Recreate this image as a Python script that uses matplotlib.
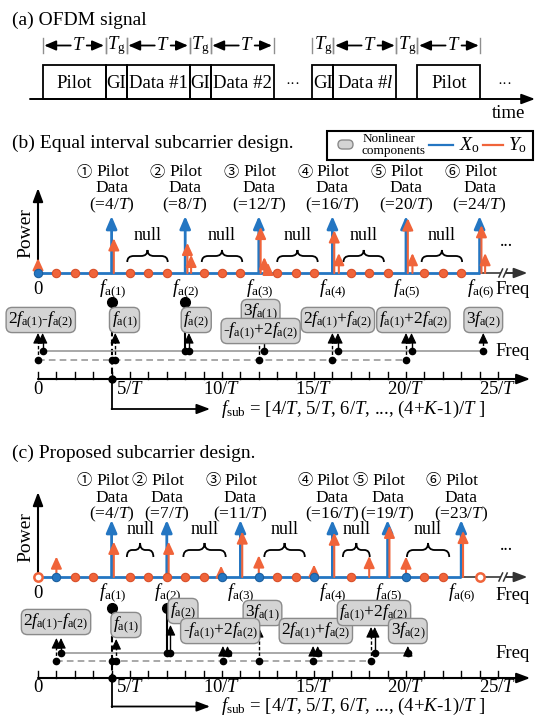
import matplotlib
matplotlib.use('Agg')
import matplotlib.pyplot as plt
import matplotlib.transforms as mtrans
from matplotlib.path import Path
from matplotlib.patches import PathPatch, Rectangle, FancyBboxPatch

W, H, DPI = 543, 717, 100
plt.rcParams['font.family'] = ['Liberation Serif', 'DejaVu Sans']
plt.rcParams['mathtext.fontset'] = 'custom'
plt.rcParams['mathtext.rm'] = 'Liberation Serif'
plt.rcParams['mathtext.it'] = 'Liberation Serif:italic'
plt.rcParams['mathtext.bf'] = 'Liberation Serif:bold'

BLUE = '#2476c2'
ORANGE = '#f0643a'
ORANGE_EDGE = '#d9502a'
GREY = '#9a9a9a'
BOX_FC = '#d4d4d4'
BOX_EC = '#8a8a8a'

# ---------------- data ----------------
# (a) OFDM frame (time unit: T = 3, Tg = 1)
seg_names = ['Pilot', 'GI', 'Data #1', 'GI', 'Data #2', 'GI', 'Data #$l$', 'Pilot']
seg_start = [0, 3, 4, 7, 8, 12.85, 13.85, 17.85]
seg_dur = [3, 1, 3, 1, 3, 1, 3, 3]
span_start = [0, 3, 4, 7, 8, 12.85, 13.85, 16.85, 17.85]
span_dur = [3, 1, 3, 1, 3, 1, 3, 1, 3]
span_lbl = ['T', 'Tg', 'T', 'Tg', 'T', 'Tg', 'T', 'Tg', 'T']
frame_dots_t = [11.9, 22.0]

circled = ['\u2460', '\u2461', '\u2462', '\u2463', '\u2464', '\u2465']

# (b) equal interval design (frequency in 1/T)
b_pilot = [4, 8, 12, 16, 20, 24]
b_pilot_h = [1, 1, 1, 1, 1, 1]
b_or_f = [0, 4.12, 8.12, 8.32, 12.1, 12.3, 12.5, 16.1, 16.35, 20.1, 20.35, 24.1, 24.3]
b_or_h = [0.26, 0.61, 0.53, 0.32, 0.81, 0.28, 0.18, 0.75, 0.35, 0.96, 0.35, 0.84, 0.35]
b_or_dots = [1, 2, 3, 5, 6, 7, 9, 10, 11, 13, 14, 15, 17, 18, 19, 21, 22, 23]
b_bl_dots = [0]
b_or_rings = []
b_null_c = [5.95, 10.0, 14.1, 17.7, 21.95]
b_null_hw = [1.1, 1.1, 1.1, 1.1, 1.1]

# (c) proposed design
c_pilot = [4, 7, 11, 16, 19, 23]
c_pilot_h = [1, 1, 1, 1, 1, 1]
c_or_f = [1, 4.12, 7.1, 9.95, 11.1, 12, 15, 16.1, 18, 19.1, 20, 23.1]
c_or_h = [0.36, 0.62, 0.62, 0.2, 0.8, 0.38, 0.22, 0.78, 0.37, 0.9, 0.36, 0.81]
c_or_dots = [2, 3, 5, 6, 7, 8, 9, 13, 14, 17, 21, 22]
c_bl_dots = [1, 10, 12, 15, 20]
c_or_rings = [0, 24]
c_null_c = [5.55, 9.05, 13.4, 17.3, 21.2]
c_null_hw = [0.72, 1.15, 1.1, 0.73, 1.15]

# nonlinear component labels
comp_lbl = [r'2$f_{\mathrm{a(1)}}$-$f_{\mathrm{a(2)}}$', r'$f_{\mathrm{a(1)}}$', r'$f_{\mathrm{a(2)}}$',
            r'3$f_{\mathrm{a(1)}}$', r'-$f_{\mathrm{a(1)}}$+2$f_{\mathrm{a(2)}}$',
            r'2$f_{\mathrm{a(1)}}$+$f_{\mathrm{a(2)}}$', r'$f_{\mathrm{a(1)}}$+2$f_{\mathrm{a(2)}}$',
            r'3$f_{\mathrm{a(2)}}$']
b_comp_x = [0.15, 4.7, 8.6, 12.1, 12.1, 16.3, 20.4, 24.2]
c_comp_x = [0.98, 4.78, 7.88, 12.2, 9.9, 15.1, 18.26, 20.1]

# component arrows: frequency, line they start from, stem style
b_arr_f = [0.0, 0.25, 4.2, 8.2, 12.0, 12.3, 16.0, 16.3, 20.0, 20.3, 24.2]
b_arr_base = ['d', 's', 'd', 's', 'd', 's', 'd', 's', 'd', 's', 's']
b_arr_ls = ['--', '-', '--', '-', '--', '-', '--', '-', '--', '-', '--']
c_arr_f = [1.0, 1.25, 4.25, 7.2, 10.05, 10.3, 12.0, 14.95, 15.2, 18.1, 18.3, 20.1]
c_arr_base = ['d', 's', 'd', 's', 'd', 's', 'd', 'd', 's', 'd', 's', 's']
c_arr_ls = ['--', '-', '--', '-', '--', '-', '--', '--', '-', '--', '-', '-']

ticks_f = list(range(0, 26))
tick_lbl = {0: '0', 5: '5/$T$', 10: '10/$T$', 15: '15/$T$', 20: '20/$T$', 25: '25/$T$'}
fsub_text = r'$f_{\mathrm{sub}}$ = [4/$T$, 5/$T$, 6/$T$, ..., (4+$K$-1)/$T$ ]'

# ---------------- figure ----------------
fig = plt.figure(figsize=(W / DPI, H / DPI), dpi=DPI)
P = fig.add_axes([0, 0, 1, 1])
P.set_xlim(0, W); P.set_ylim(H, 0); P.axis('off')


def full_axes(x0_px, xunit, y0_px, yunit):
    ax = fig.add_axes([0, 0, 1, 1])
    ax.set_xlim(-x0_px / xunit, (W - x0_px) / xunit)
    ax.set_ylim((y0_px - H) / yunit, y0_px / yunit)
    ax.axis('off')
    ax.patch.set_alpha(0)
    return ax


def arrow(ax, xy, xyt, color='black', lw=1.2, hl=0.6, hw=0.3, ms=10, tr=None, z=3):
    c = tr if tr is not None else 'data'
    ax.annotate('', xy=xy, xytext=xyt, xycoords=c, textcoords=c,
                arrowprops=dict(arrowstyle=f'-|>,head_length={hl},head_width={hw}',
                                color=color, lw=lw, shrinkA=0, shrinkB=0,
                                mutation_scale=ms), zorder=z)


def brace(ax, tr, xc, hw, y_tip, y_end):
    ym = (y_tip + y_end) / 2
    r = min(0.35, hw * 0.4)
    x0, x1 = xc - hw, xc + hw
    verts = [(x0, y_end), (x0, ym), (x0 + r, ym), (xc - r, ym), (xc, ym), (xc, y_tip),
             (xc, ym), (xc + r, ym), (x1 - r, ym), (x1, ym), (x1, y_end)]
    codes = [Path.MOVETO, Path.CURVE3, Path.CURVE3, Path.LINETO, Path.CURVE3, Path.CURVE3,
             Path.CURVE3, Path.CURVE3, Path.LINETO, Path.CURVE3, Path.CURVE3]
    ax.add_patch(PathPatch(Path(verts, codes), transform=tr, fill=False, lw=1.3, ec='black'))


# ---------- (a) ----------
Ta = full_axes(42.6, 21.0, 0, -1)  # x: time units, y: pixel rows
P.text(12, 20, '(a) OFDM signal', fontsize=14, va='center', ha='left')
for name, s, d in zip(seg_names, seg_start, seg_dur):
    Ta.add_patch(Rectangle((s, 65), d, 34, fill=False, ec='black', lw=1.3))
    Ta.text(s + d / 2, 83, name, ha='center', va='center', fontsize=13.5)
arrow(Ta, (23.45, 99), (-0.6, 99), lw=1.4, hl=0.8, hw=0.3)
P.text(509, 113, 'time', ha='center', va='center', fontsize=13.5)
for t in frame_dots_t:
    Ta.text(t, 84, '\u00b7\u00b7\u00b7', ha='center', va='center', fontsize=11)
for s, d, l in zip(span_start, span_dur, span_lbl):
    for xb in (s, s + d):
        Ta.plot([xb, xb], [38, 53], color='#8f8f8f', lw=1)
    c = s + d / 2
    if l == 'T':
        tc = c + 0.22
        Ta.text(tc, 45.5, '$T$', ha='center', va='center', fontsize=13.5)
        arrow(Ta, (s + 0.08, 45.5), (tc - 0.38, 45.5), lw=1.3, hl=0.7, hw=0.3)
        arrow(Ta, (s + d - 0.08, 45.5), (tc + 0.38, 45.5), lw=1.3, hl=0.7, hw=0.3)
    else:
        Ta.text(c, 45.5, r'$T_{\mathrm{g}}$', ha='center', va='center', fontsize=13.5)

# ---------- legend ----------
P.text(12, 143, '(b) Equal interval subcarrier design.', fontsize=14, va='center', ha='left')
P.add_patch(Rectangle((327, 131), 206, 29, fill=False, ec='black', lw=1.5))
P.add_patch(FancyBboxPatch((338, 140), 15, 9, boxstyle='round,pad=0,rounding_size=4.5',
                           fc=BOX_FC, ec=BOX_EC, lw=1))
P.text(363, 139.5, 'Nonlinear', fontsize=9.5, va='center', ha='left')
P.text(361, 151, 'components', fontsize=9.5, va='center', ha='left')
P.plot([429, 453], [145, 145], color=BLUE, lw=1.6)
P.text(459, 145, r'$X_{\mathrm{o}}$', fontsize=14, va='center', ha='left')
P.plot([483, 503], [145, 145], color=ORANGE, lw=1.6)
P.text(508, 145, r'$Y_{\mathrm{o}}$', fontsize=14, va='center', ha='left')


def spectrum(S, tr, pilots, pilot_h, or_f, or_h, or_dots, bl_dots, or_rings, blue_end,
             null_c, null_hw, y_lbl, y_null, y_btip, y_bend, y_dots3, y_flab, y_power):
    S.plot([0, blue_end], [0, 0], color=BLUE, lw=2, zorder=2, solid_capstyle='butt')
    S.plot([blue_end, 25.1], [0, 0], color='#555555', lw=1.4, zorder=2)
    arrow(S, (26.6, 0), (25.45, 0), color='#333333', lw=1.4, hl=0.8, hw=0.3)
    for xb in (25.05, 25.3):
        S.plot([xb, xb + 0.2], [-0.07, 0.07], color='#333333', lw=1.1)
    arrow(S, (0, 1.49), (0, 0), lw=1.5, hl=0.8, hw=0.3)
    P.text(26, y_power, 'Power', rotation=90, ha='center', va='center', fontsize=14)
    for f, h in zip(pilots, pilot_h):
        arrow(S, (f, h), (f, 0), color=BLUE, lw=2.0, hl=0.75, hw=0.32, z=4)
    for f, h in zip(or_f, or_h):
        arrow(S, (f, h), (f, 0), color=ORANGE, lw=1.5, hl=0.7, hw=0.32, z=5)
    S.plot(or_dots, [0] * len(or_dots), 'o', ms=6, mfc=ORANGE, mec=ORANGE_EDGE, mew=0.8, zorder=6)
    S.plot(bl_dots, [0] * len(bl_dots), 'o', ms=6, mfc=BLUE, mec='#1b5f9e', mew=0.8, zorder=6)
    if or_rings:
        S.plot(or_rings, [0] * len(or_rings), 'o', ms=6, mfc='white', mec=ORANGE, mew=1.8, zorder=6)
    for k, f in enumerate(pilots):
        S.text(f - 1.5, y_lbl[0], circled[k], transform=tr, ha='center', va='center',
               fontsize=11, family=['Noto Sans CJK JP', 'DejaVu Sans'])
        S.text(f + 0.05, y_lbl[0], 'Pilot', transform=tr, ha='center', va='center', fontsize=12.5)
        S.text(f, y_lbl[1], 'Data', transform=tr, ha='center', va='center', fontsize=12.5)
        S.text(f, y_lbl[2], f'(={f}/$T$)', transform=tr, ha='center', va='center', fontsize=12.5)
        S.text(f + 0.05, y_flab, rf'$f_{{\mathrm{{a({k + 1})}}}}$', transform=tr,
               ha='center', va='center', fontsize=13.5)
    S.text(0, y_flab, '0', transform=tr, ha='center', va='center', fontsize=13.5)
    for c, hw in zip(null_c, null_hw):
        S.text(c, y_null, 'null', transform=tr, ha='center', va='center', fontsize=13)
        brace(S, tr, c, hw, y_btip, y_bend)
    S.text(25.45, y_dots3, '...', transform=tr, ha='center', va='center', fontsize=13)


def arr_tips(arr_f, comp_x, box_y):
    # tip just below the box whose centre is closest in frequency
    tips = []
    for x in arr_f:
        best = None
        for cx, (yc, yb) in zip(comp_x, box_y):
            d = abs(cx - x)
            if best is None or d < best[0] - 1e-9:
                best = (d, yb)
        tips.append(best[1] + 6)
    return tips


def lower(S, tr, pilots, comp_x, box_y, arr_f, arr_base, arr_ls, y_big, y_s, y_d,
          y_ax, y_tlab, y_fsub, y_freq_top):
    f1, f2 = pilots[0], pilots[1]
    S.plot([f1], [y_big], 'o', ms=7, color='black', transform=tr, zorder=6)
    S.plot([f2], [y_big], 'o', ms=7, color='black', transform=tr, zorder=6)
    S.plot([f1, f1], [y_big, y_ax], color='black', lw=1.5, ls=(0, (3, 1.5)), transform=tr)
    S.plot([f2, f2], [y_big, y_s], color='black', lw=1.5, transform=tr)
    d_f = [x for x, b in zip(arr_f, arr_base) if b == 'd'] + [f1]
    s_f = [x for x, b in zip(arr_f, arr_base) if b == 's'] + [f2]
    S.plot([min(s_f), max(s_f)], [y_s, y_s], color=GREY, lw=1.2, transform=tr)
    S.plot([min(d_f), max(d_f)], [y_d, y_d], color=GREY, lw=1.2, ls=(0, (4, 2.5)), transform=tr)
    S.plot(d_f, [y_d] * len(d_f), 'o', ms=4.5, color='black', transform=tr, zorder=5)
    S.plot(s_f, [y_s] * len(s_f), 'o', ms=4.5, color='black', transform=tr, zorder=5)
    P.text(530, y_s, 'Freq', ha='right', va='center', fontsize=13.5)
    P.text(530, y_freq_top, 'Freq', ha='right', va='center', fontsize=13.5)
    for lbl, x, (yc, yb) in zip(comp_lbl, comp_x, box_y):
        S.text(x, yc, lbl, transform=tr, ha='center', va='center', fontsize=12.5,
               bbox=dict(boxstyle='round,pad=0.12,rounding_size=0.35', fc=BOX_FC, ec=BOX_EC, lw=1),
               zorder=7)
    for x, b, ls, tip in zip(arr_f, arr_base, arr_ls, arr_tips(arr_f, comp_x, box_y)):
        yb = y_s if b == 's' else y_d
        S.plot([x, x], [yb, tip + 6], color='black', lw=1.0, ls=ls if ls == '-' else (0, (2.5, 1.5)),
               transform=tr)
        arrow(S, (x, tip), (x, tip + 6.5), lw=0.8, hl=0.7, hw=0.33, ms=9, tr=tr)
    arrow(S, (26.75, y_ax), (0, y_ax), lw=1.5, hl=0.8, hw=0.3, tr=tr)
    for t in ticks_f:
        S.plot([t, t], [y_ax - 7, y_ax], color='black', lw=1, transform=tr)
        if t in tick_lbl:
            S.text(t, y_tlab, tick_lbl[t], transform=tr, ha='center', va='center', fontsize=13.5)
    S.plot([f1], [y_ax], 'o', ms=5, color='black', transform=tr, zorder=6)
    S.plot([f1, f1], [y_ax, y_fsub], color='black', lw=1.3, transform=tr)
    arrow(S, (9.35, y_fsub), (f1, y_fsub), lw=1.3, hl=0.8, hw=0.3, tr=tr)
    S.text(9.95, y_fsub, fsub_text, transform=tr, ha='left', va='center', fontsize=13.5)


# ---------- (b) ----------
Sb = full_axes(38, 18.4, 273, 57)
Tb = mtrans.blended_transform_factory(Sb.transData, P.transData)
spectrum(Sb, Tb, b_pilot, b_pilot_h, b_or_f, b_or_h, b_or_dots, b_bl_dots, b_or_rings, 24,
         b_null_c, b_null_hw, (172, 188.5, 205), 236, 250, 262, 241, 289, 233)
b_box_y = [(320, 327), (320, 327), (320, 327), (312, 319), (331, 339), (320, 327), (320, 327), (320, 327)]
lower(Sb, Tb, b_pilot, b_comp_x, b_box_y, b_arr_f, b_arr_base, b_arr_ls,
      302, 351, 360, 379, 390, 409, 289)

# ---------- (c) ----------
P.text(12, 453, '(c) Proposed subcarrier design.', fontsize=14, va='center', ha='left')
Sc = full_axes(38, 18.4, 577, 57)
Tc = mtrans.blended_transform_factory(Sc.transData, P.transData)
spectrum(Sc, Tc, c_pilot, c_pilot_h, c_or_f, c_or_h, c_or_dots, c_bl_dots, c_or_rings, 23,
         c_null_c, c_null_hw, (481, 497.5, 514), 530, 543, 557, 545, 593, 537)
c_box_y = [(622, 632), (625, 633), (611, 619), (613, 621), (631, 640), (631, 640), (613, 621), (631, 640)]
lower(Sc, Tc, c_pilot, c_comp_x, c_box_y, c_arr_f, c_arr_base, c_arr_ls,
      608, 653, 661, 678, 688, 706.5, 596)

fig.savefig('out.png', dpi=DPI)
